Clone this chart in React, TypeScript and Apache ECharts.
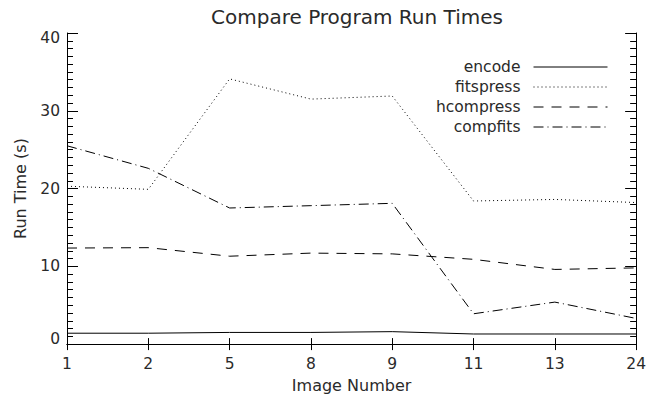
import React, { useEffect, useRef } from "react";
import * as echarts from "echarts";

const categories = ["1", "2", "5", "8", "9", "11", "13", "24"];
const encode = [1.4, 1.4, 1.5, 1.5, 1.6, 1.3, 1.3, 1.3];
const fitspress = [20.3, 19.9, 34.1, 31.5, 31.9, 18.4, 18.6, 18.2];
const hcompress = [12.35, 12.4, 11.3, 11.7, 11.6, 10.9, 9.6, 9.8];
const compfits = [25.5, 22.6, 17.5, 17.8, 18.1, 3.9, 5.4, 3.3];
const yTicks = { min: 0, max: 40, interval: 10 };

const FONT = "DejaVu Sans";
const TXT = "#2a2a2a";

export default function App() {
  const ref = useRef<HTMLDivElement>(null);
  useEffect(() => {
    if (!ref.current) return;
    const chart = echarts.init(ref.current, undefined, { renderer: "svg" });
    const axisLine = { show: true, lineStyle: { color: "#000", width: 1 } };
    const lbl = { fontFamily: FONT, fontSize: 15.5, color: TXT };
    const mk = (name: string, data: number[], type: any) => ({
      name,
      type: "line",
      data,
      symbol: "none",
      showSymbol: false,
      lineStyle: { color: "#000", width: 1, type },
      itemStyle: { color: "#000" },
      emphasis: { disabled: true },
    });
    chart.setOption({
      animation: false,
      backgroundColor: "#fff",
      title: {
        text: "Compare Program Run Times",
        left: 352,
        top: 2,
        textAlign: "center",
        textStyle: { fontFamily: FONT, fontSize: 20, fontWeight: "normal", color: TXT },
      },
      legend: {
        orient: "vertical",
        align: "right",
        right: 41,
        top: 59,
        padding: 0,
        itemWidth: 74,
        itemHeight: 10,
        itemGap: 4,
        selectedMode: false,
        itemStyle: { opacity: 0 },
        lineStyle: { width: 1 },
        textStyle: { fontFamily: FONT, fontSize: 15.5, color: TXT, padding: [0, 8, 0, 0] },
        data: ["encode", "fitspress", "hcompress", "compfits"],
      },
      grid: { left: 67, right: 11, top: 33, bottom: 53, containLabel: false },
      xAxis: [
        {
          type: "category",
          data: categories,
          boundaryGap: false,
          position: "bottom",
          axisLine,
          axisTick: { show: true, inside: true, length: 6, lineStyle: { color: "#000" } },
          axisLabel: { ...lbl, margin: 12 },
          splitLine: { show: false },
          name: "Image Number",
          nameLocation: "middle",
          nameGap: 31,
          nameTextStyle: { fontFamily: FONT, fontSize: 16, color: TXT },
        },
        {
          type: "category",
          data: categories,
          boundaryGap: false,
          position: "top",
          axisLine,
          axisTick: { show: true, inside: true, length: 6, lineStyle: { color: "#000" } },
          axisLabel: { show: false },
          splitLine: { show: false },
        },
      ],
      yAxis: [
        {
          type: "value",
          ...yTicks,
          position: "left",
          axisLine,
          axisTick: { show: true, inside: true, length: 11, lineStyle: { color: "#000" } },
          minorTick: { show: true, splitNumber: 10, length: 6, lineStyle: { color: "#000" } },
          splitLine: { show: false },
          axisLabel: {
            ...lbl,
            margin: 7,
            formatter: (v: number) =>
              v === yTicks.min ? "{lo|" + v + "}" : v === yTicks.max ? "{hi|" + v + "}" : String(v),
            rich: {
              lo: { ...lbl, padding: [0, 0, 10, 0] },
              hi: { ...lbl, padding: [10, 0, 0, 0] },
            },
          },
          name: "Run Time (s)",
          nameLocation: "middle",
          nameGap: 39,
          nameTextStyle: { fontFamily: FONT, fontSize: 16, color: TXT },
        },
        {
          type: "value",
          ...yTicks,
          position: "right",
          axisLine,
          axisTick: { show: true, inside: true, length: 11, lineStyle: { color: "#000" } },
          minorTick: { show: true, splitNumber: 10, length: 6, lineStyle: { color: "#000" } },
          splitLine: { show: false },
          axisLabel: { show: false },
        },
      ],
      series: [
        mk("encode", encode, "solid"),
        mk("fitspress", fitspress, [1, 3]),
        mk("hcompress", hcompress, [10, 8]),
        mk("compfits", compfits, [10, 4, 1, 4]),
      ],
    });
    return () => chart.dispose();
  }, []);
  return (
    <div
      ref={ref}
      style={{ position: "absolute", left: 0, top: 0, width: 649, height: 398 }}
    />
  );
}
